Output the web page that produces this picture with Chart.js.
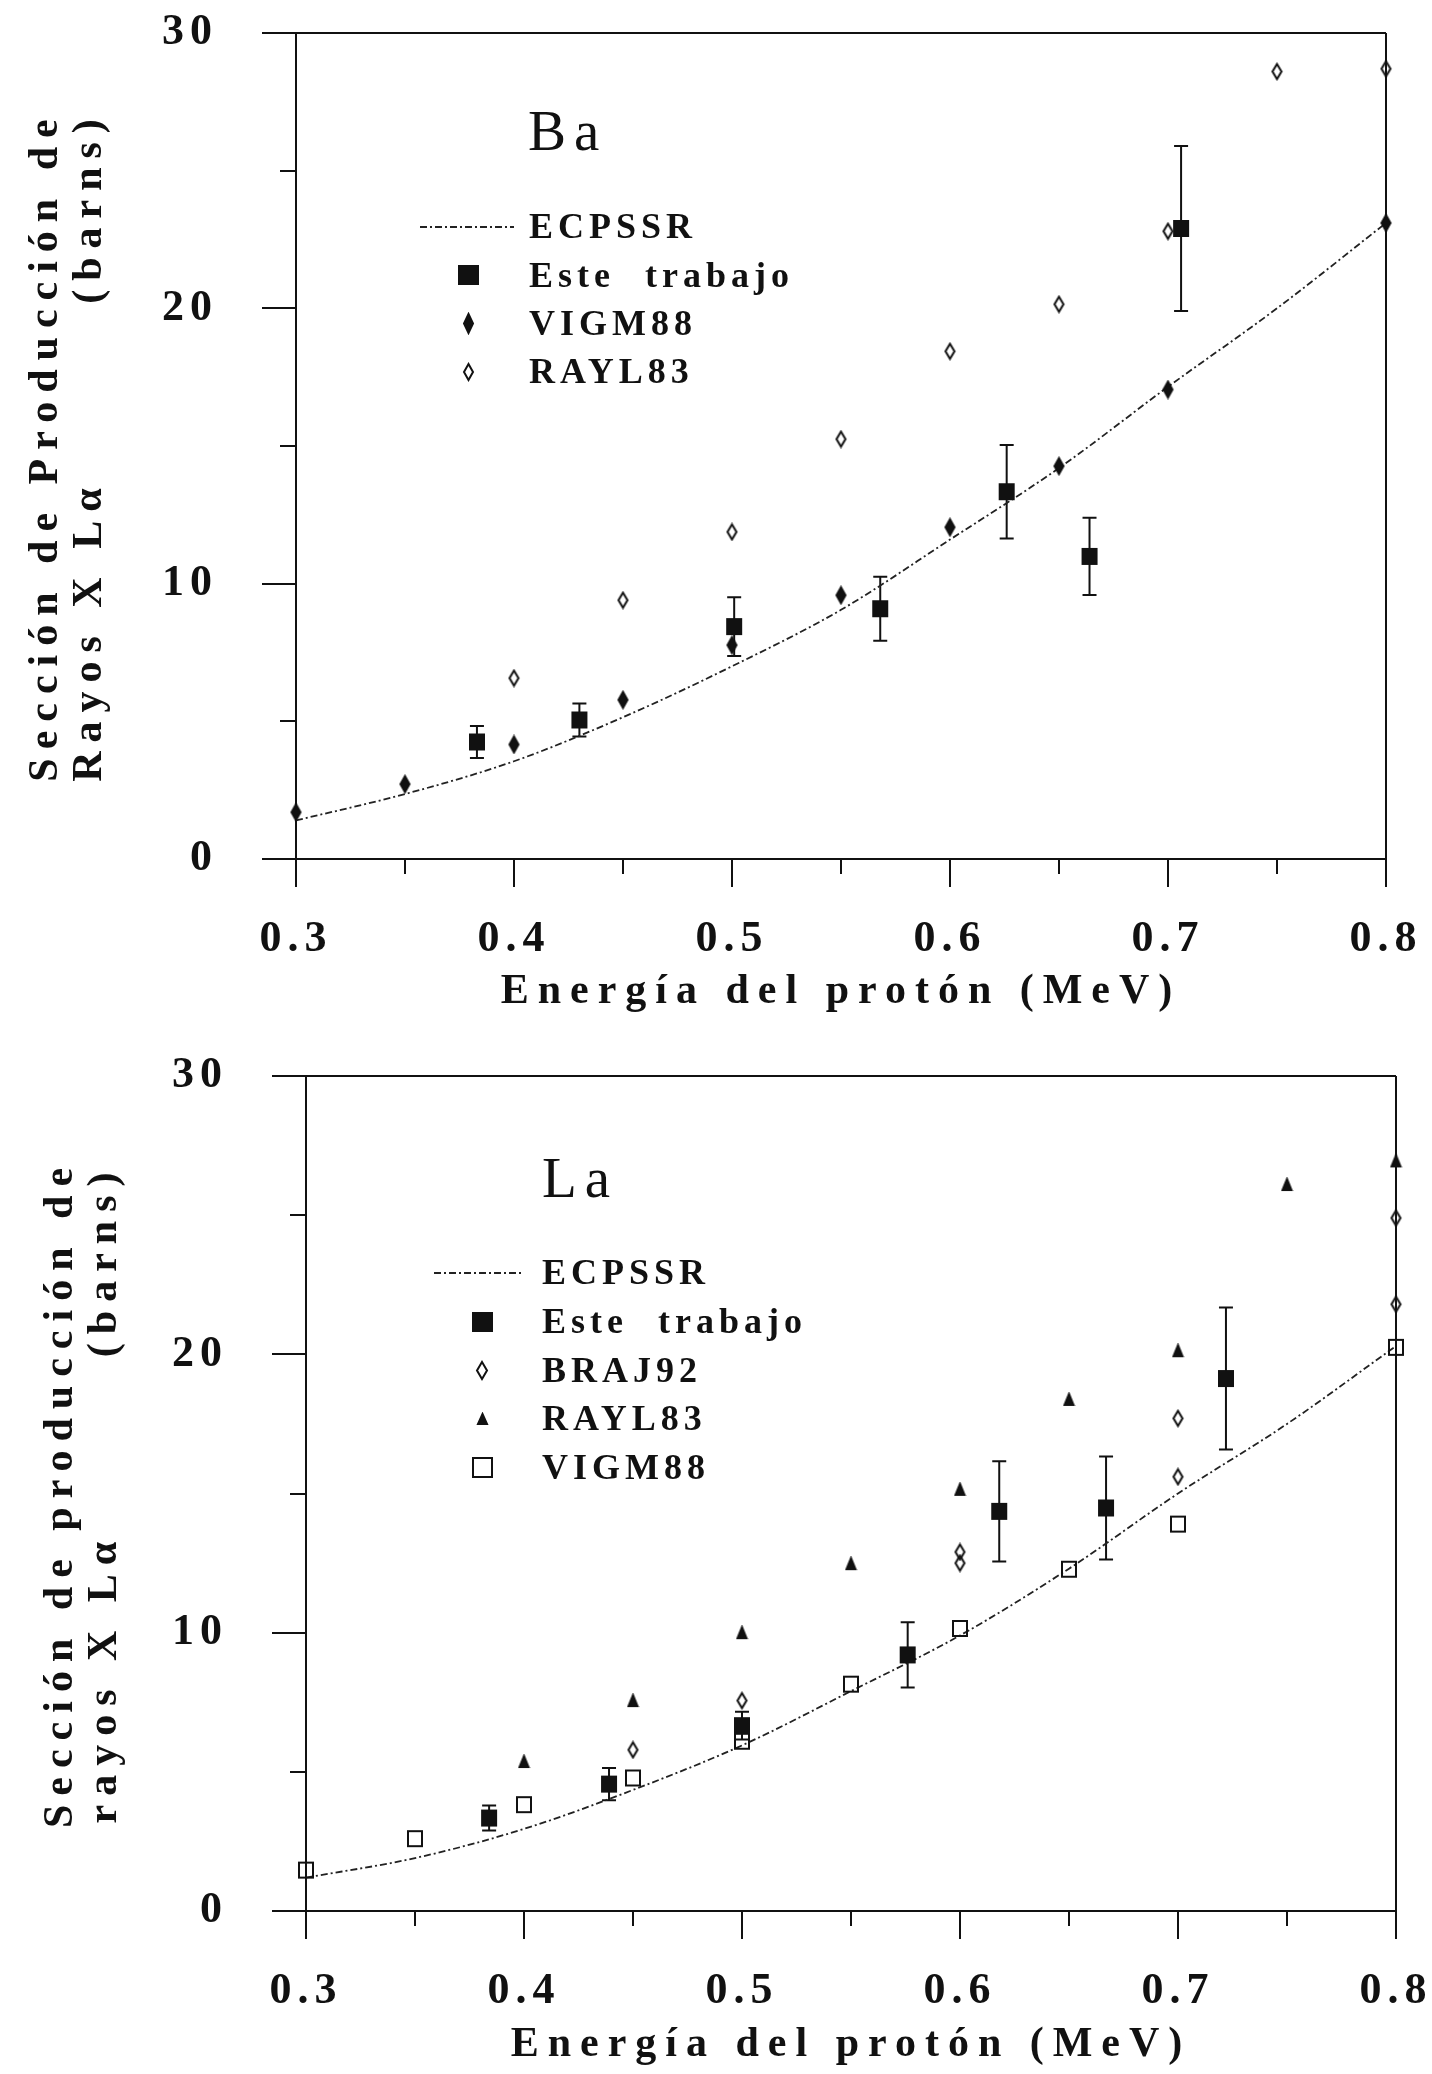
<!DOCTYPE html>
<html>
<head>
<meta charset="utf-8">
<title>Sección de producción de rayos X Lα — Ba y La</title>
<script src="https://cdn.jsdelivr.net/npm/chart.js@4.4.1/dist/chart.umd.min.js"></script>
<style>
  html, body { margin: 0; padding: 0; background: #fff; }
  body { width: 1432px; height: 2074px; position: relative; overflow: hidden; }
  canvas { position: absolute; left: 0; }
</style>
</head>
<body>
<canvas id="baChart" width="1432" height="1034" style="top:0"></canvas>
<canvas id="laChart" width="1432" height="1034" style="top:1040px"></canvas>
<script>
const INK = '#111';
const FONT = '"Liberation Serif", "Times New Roman", serif';

// axis labels
const xTickLabels = ['0.3', '0.4', '0.5', '0.6', '0.7', '0.8'];
const yTickLabels = ['0', '10', '20', '30'];

// energies where the ECPSSR curve was read (MeV)
const curveEnergy = [0.30, 0.35, 0.40, 0.45, 0.50, 0.55, 0.60, 0.65, 0.70, 0.75, 0.80];

// --- Ba ---
const baEcpssr = [1.40, 2.36, 3.55, 5.15, 7.00, 9.05, 11.6, 14.2, 17.15, 20.0, 23.1];
const baWorkEnergy = [0.383, 0.430, 0.501, 0.568, 0.626, 0.664, 0.706];
const baWork = [4.25, 5.05, 8.44, 9.09, 13.34, 10.99, 22.9];
const baWorkErr = [0.58, 0.60, 1.07, 1.16, 1.70, 1.40, 3.0];
const baVigmEnergy = [0.30, 0.35, 0.40, 0.45, 0.50, 0.55, 0.60, 0.65, 0.70, 0.80];
const baVigm = [1.70, 2.72, 4.16, 5.78, 7.77, 9.58, 12.05, 14.27, 17.05, 23.1];
const baRaylEnergy = [0.40, 0.45, 0.50, 0.55, 0.60, 0.65, 0.70, 0.75, 0.80];
const baRayl = [6.57, 9.40, 11.88, 15.25, 18.44, 20.15, 22.8, 28.6, 28.7];

// --- La ---
const laEcpssr = [1.2, 1.9, 2.95, 4.35, 5.95, 7.9, 9.9, 12.3, 15.0, 17.5, 20.3];
const laWorkEnergy = [0.384, 0.439, 0.500, 0.576, 0.618, 0.667, 0.722];
const laWork = [3.34, 4.56, 6.66, 9.20, 14.36, 14.48, 19.13];
const laWorkErr = [0.45, 0.58, 0.50, 1.17, 1.80, 1.85, 2.55];
const laBrajEnergy = [0.45, 0.50, 0.60, 0.60, 0.70, 0.70, 0.80, 0.80];
const laBraj = [5.79, 7.56, 12.5, 12.9, 15.6, 17.7, 21.8, 24.9];
const laRaylEnergy = [0.40, 0.45, 0.50, 0.55, 0.60, 0.65, 0.70, 0.75, 0.80];
const laRayl = [5.37, 7.56, 10.0, 12.48, 15.15, 18.38, 20.13, 26.1, 26.95];
const laVigmEnergy = [0.30, 0.35, 0.40, 0.45, 0.50, 0.55, 0.60, 0.65, 0.70, 0.80];
const laVigm = [1.47, 2.60, 3.82, 4.78, 6.10, 8.15, 10.15, 12.28, 13.9, 20.25];

function pts(xs, ys) {
  return xs.map((x, i) => ({ x, y: ys[i] }));
}

// little bitmap markers, the scan uses narrow diamonds that chart.js has no style for
function makeMarker(shape, w, h, filled) {
  const lw = 2;
  const c = document.createElement('canvas');
  c.width = w + 2 * lw;
  c.height = h + 2 * lw;
  const g = c.getContext('2d');
  g.translate(lw, lw);
  g.beginPath();
  if (shape === 'diamond') {
    g.moveTo(w / 2, 0); g.lineTo(w, h / 2); g.lineTo(w / 2, h); g.lineTo(0, h / 2); g.closePath();
  } else if (shape === 'triangle') {
    g.moveTo(w / 2, 0); g.lineTo(w, h); g.lineTo(0, h); g.closePath();
  } else {
    g.rect(0, 0, w, h);
  }
  if (filled) { g.fillStyle = INK; g.fill(); }
  g.lineWidth = lw;
  g.strokeStyle = INK;
  g.stroke();
  return c;
}

const curveDash = [7, 3, 2, 3];

function curveSet(values) {
  return {
    label: 'ECPSSR',
    data: pts(curveEnergy, values),
    showLine: true,
    borderColor: '#222',
    borderWidth: 1.8,
    borderDash: curveDash,
    pointRadius: 0,
    cubicInterpolationMode: 'monotone',
    order: 5,
    clip: false,
  };
}

function markerSet(label, xs, ys, marker, legendMarker, extra) {
  return Object.assign({
    label,
    data: pts(xs, ys),
    showLine: false,
    pointStyle: marker,
    legendMarker,
    pointRadius: 10,
    pointHoverRadius: 10,
    clip: false,
  }, extra || {});
}

// error bars for "Este trabajo"
const errorBars = {
  id: 'errorBars',
  beforeDatasetsDraw(chart, args, opts) {
    const { ctx } = chart;
    const yScale = chart.scales.y;
    chart.data.datasets.forEach((ds, i) => {
      if (!ds.errors) return;
      const meta = chart.getDatasetMeta(i);
      ctx.save();
      ctx.strokeStyle = INK;
      ctx.lineWidth = opts.width;
      meta.data.forEach((pt, j) => {
        const v = ds.data[j].y;
        const e = ds.errors[j];
        const top = yScale.getPixelForValue(v + e);
        const bot = yScale.getPixelForValue(v - e);
        ctx.beginPath();
        ctx.moveTo(pt.x, top); ctx.lineTo(pt.x, bot);
        ctx.moveTo(pt.x - opts.cap, top); ctx.lineTo(pt.x + opts.cap, top);
        ctx.moveTo(pt.x - opts.cap, bot); ctx.lineTo(pt.x + opts.cap, bot);
        ctx.stroke();
      });
      ctx.restore();
    });
  },
};

// the typewriter look: titles widely spaced, tick labels (drawn after the data, ticks.z = 1) a bit less
const spacedText = {
  id: 'spacedText',
  beforeDraw(chart, args, opts) {
    chart.ctx.letterSpacing = opts.titles;
  },
  afterDatasetsDraw(chart, args, opts) {
    chart.ctx.letterSpacing = opts.ticks;
  },
};

// element name + legend drawn inside the plot box
const panelLegend = {
  id: 'panelLegend',
  afterDraw(chart, args, opts) {
    const { ctx, chartArea } = chart;
    const left = chartArea.left;
    const top = chartArea.top;
    ctx.save();
    ctx.fillStyle = INK;
    ctx.strokeStyle = '#222';
    ctx.textAlign = 'left';
    ctx.letterSpacing = '8px';
    ctx.font = 'normal 57px ' + FONT;
    ctx.textBaseline = 'alphabetic';
    ctx.fillText(opts.label, left + opts.labelX, top + opts.labelY);

    ctx.font = 'bold 36px ' + FONT;
    ctx.letterSpacing = '5px';
    ctx.wordSpacing = '16px';
    ctx.textBaseline = 'middle';
    chart.data.datasets.forEach((ds, i) => {
      const y = top + opts.rowY + i * opts.rowGap;
      if (ds.showLine) {
        ctx.save();
        ctx.lineWidth = ds.borderWidth;
        ctx.setLineDash(ds.borderDash || []);
        ctx.beginPath();
        ctx.moveTo(left + opts.lineX0, y);
        ctx.lineTo(left + opts.lineX1, y);
        ctx.stroke();
        ctx.restore();
      } else {
        const m = ds.legendMarker;
        ctx.drawImage(m, Math.round(left + opts.markerX - m.width / 2), Math.round(y - m.height / 2));
      }
      ctx.fillText(ds.label, left + opts.textX, y + 2);
    });
    ctx.restore();
  },
};

function isMajor(v, step) {
  const r = v / step;
  return Math.abs(r - Math.round(r)) < 1e-6;
}

function panelOptions(p) {
  return {
    responsive: false,
    animation: false,
    events: [],
    layout: { padding: { top: p.top, right: 1432 - p.right, left: 0, bottom: 0 } },
    scales: {
      x: {
        type: 'linear',
        min: 0.3,
        max: 0.8,
        afterFit: (s) => {
          s.height = p.canvasH - p.bottom;
          s.paddingLeft = 0;
          s.paddingRight = 0;
        },
        ticks: {
          stepSize: 0.05,
          autoSkip: false,
          maxRotation: 0,
          padding: 26,
          z: 1,
          color: INK,
          font: { family: FONT, size: 44, weight: 'bold' },
          callback: (v) => {
            const s = Number(v).toFixed(1);
            return isMajor(v, 0.1) && xTickLabels.includes(s) ? s : '';
          },
        },
        grid: {
          drawOnChartArea: true,
          color: (c) => (c.tick && Math.abs(c.tick.value - 0.8) < 1e-9 ? INK : 'rgba(0,0,0,0)'),
          lineWidth: 2,
          tickColor: INK,
          tickWidth: 2,
          tickLength: 28,
          tickBorderDash: (c) => (c.tick && !isMajor(c.tick.value, 0.1) ? [14, 100] : []),
        },
        border: { display: true, color: INK, width: 2 },
        title: {
          display: true,
          text: 'Energía del protón (MeV)',
          color: INK,
          font: { family: FONT, size: 42, weight: 'bold' },
          padding: { top: 0, bottom: p.xTitlePad },
        },
      },
      y: {
        type: 'linear',
        min: 0,
        max: 30,
        afterFit: (s) => {
          s.width = p.leftW;
          s.paddingTop = 0;
          s.paddingBottom = 0;
        },
        ticks: {
          stepSize: 5,
          padding: 44,
          z: 1,
          color: INK,
          font: { family: FONT, size: 44, weight: 'bold' },
          callback: (v) => (yTickLabels.includes(String(v)) ? String(v) : ''),
        },
        grid: {
          drawOnChartArea: true,
          color: (c) => (c.tick && c.tick.value === 30 ? INK : 'rgba(0,0,0,0)'),
          lineWidth: 2,
          tickColor: INK,
          tickWidth: 2,
          tickLength: 34,
          tickBorderDash: (c) => (c.tick && !isMajor(c.tick.value, 10) ? [0, 18, 16, 100] : []),
        },
        border: { display: true, color: INK, width: 2 },
        title: {
          display: true,
          text: p.yTitle,
          color: INK,
          font: { family: FONT, size: 42, weight: 'bold', lineHeight: 1.05 },
          padding: { top: p.yTitlePad, bottom: 0 },
        },
      },
    },
    plugins: {
      legend: { display: false },
      tooltip: { enabled: false },
      spacedText: { titles: '9px', ticks: '6px' },
      errorBars: { width: 2, cap: 7 },
      panelLegend: p.legend,
    },
  };
}

// --- Ba panel ---
const baMarkers = {
  work: makeMarker('rect', 14, 15, true),
  workLeg: makeMarker('rect', 19, 18, true),
  vigm: makeMarker('diamond', 9, 16, true),
  vigmLeg: makeMarker('diamond', 9, 19, true),
  rayl: makeMarker('diamond', 9, 15, false),
  raylLeg: makeMarker('diamond', 9, 16, false),
};

new Chart(document.getElementById('baChart'), {
  type: 'scatter',
  data: {
    datasets: [
      curveSet(baEcpssr),
      markerSet('Este trabajo', baWorkEnergy, baWork, baMarkers.work, baMarkers.workLeg, { errors: baWorkErr }),
      markerSet('VIGM88', baVigmEnergy, baVigm, baMarkers.vigm, baMarkers.vigmLeg),
      markerSet('RAYL83', baRaylEnergy, baRayl, baMarkers.rayl, baMarkers.raylLeg),
    ],
  },
  options: panelOptions({
    canvasH: 1034, top: 33, bottom: 859, right: 1386, leftW: 296,
    xTitlePad: 17, yTitlePad: 24,
    yTitle: ['Sección de Producción de', 'Rayos X Lα         (barns)'],
    legend: { label: 'Ba', labelX: 232, labelY: 117, rowY: 194, rowGap: 48.3, lineX0: 124, lineX1: 218, markerX: 172, textX: 233 },
  }),
  plugins: [spacedText, errorBars, panelLegend],
});

// --- La panel ---
const laMarkers = {
  work: makeMarker('rect', 14, 15, true),
  workLeg: makeMarker('rect', 19, 18, true),
  braj: makeMarker('diamond', 9, 15, false),
  brajLeg: makeMarker('diamond', 10, 17, false),
  rayl: makeMarker('triangle', 9, 11, true),
  raylLeg: makeMarker('triangle', 9, 10, true),
  vigm: makeMarker('rect', 14, 15, false),
  vigmLeg: makeMarker('rect', 19, 19, false),
};

new Chart(document.getElementById('laChart'), {
  type: 'scatter',
  data: {
    datasets: [
      curveSet(laEcpssr),
      markerSet('Este trabajo', laWorkEnergy, laWork, laMarkers.work, laMarkers.workLeg, { errors: laWorkErr }),
      markerSet('BRAJ92', laBrajEnergy, laBraj, laMarkers.braj, laMarkers.brajLeg),
      markerSet('RAYL83', laRaylEnergy, laRayl, laMarkers.rayl, laMarkers.raylLeg),
      markerSet('VIGM88', laVigmEnergy, laVigm, laMarkers.vigm, laMarkers.vigmLeg),
    ],
  },
  options: panelOptions({
    canvasH: 1034, top: 36, bottom: 871, right: 1396, leftW: 306,
    xTitlePad: 4, yTitlePad: 39,
    yTitle: ['Sección de producción de', 'rayos X Lα         (barns)'],
    legend: { label: 'La', labelX: 236, labelY: 121, rowY: 197, rowGap: 48.7, lineX0: 128, lineX1: 218, markerX: 176, textX: 236 },
  }),
  plugins: [spacedText, errorBars, panelLegend],
});
</script>
</body>
</html>
